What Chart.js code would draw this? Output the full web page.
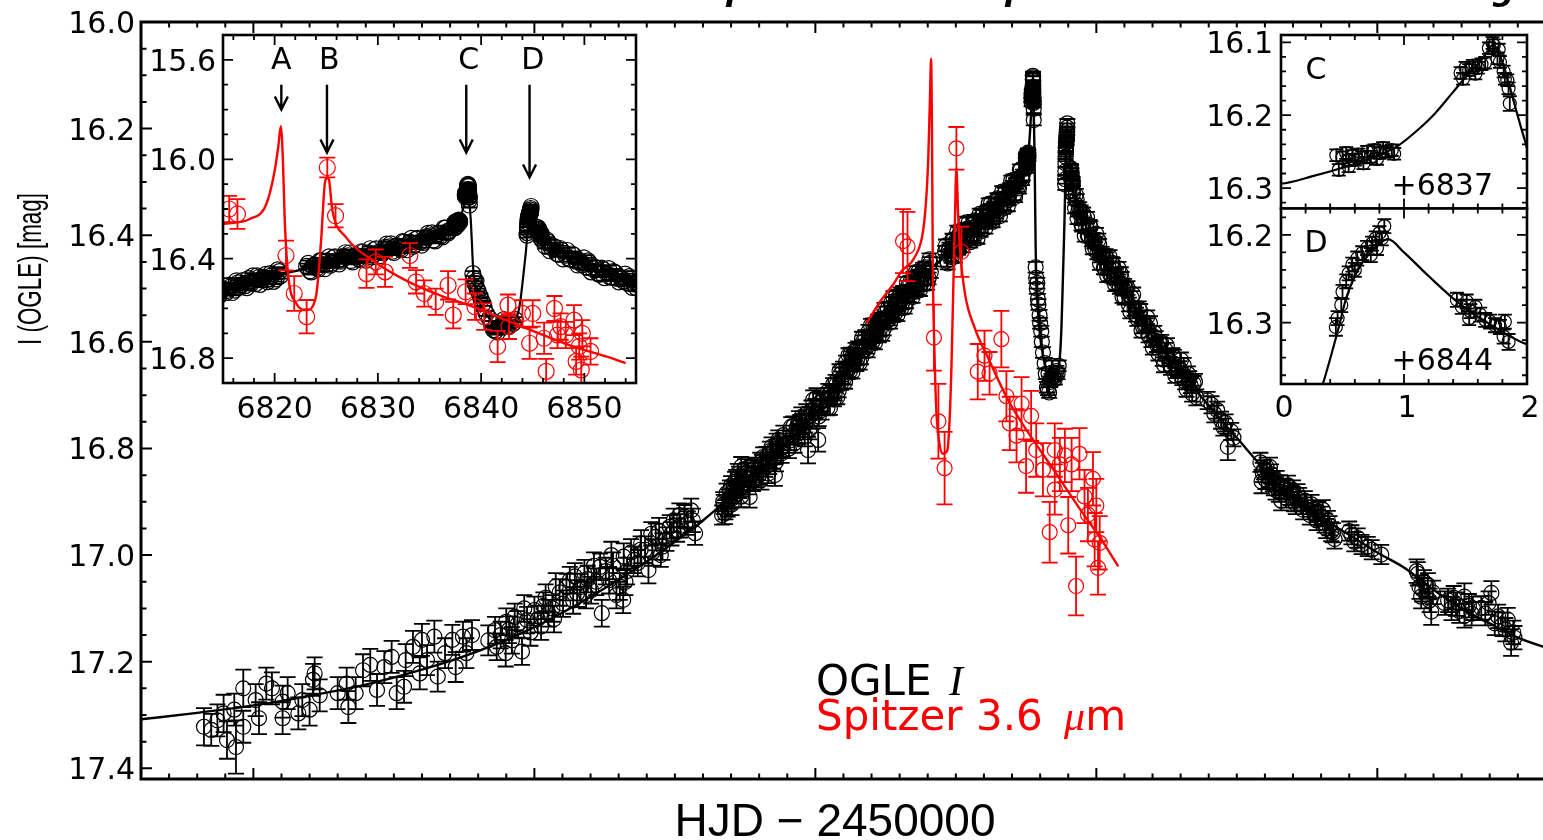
<!DOCTYPE html>
<html>
<head>
<meta charset="utf-8">
<title>OGLE and Spitzer light curve</title>
<script src="https://cdn.jsdelivr.net/npm/chart.js@4.4.1/dist/chart.umd.min.js"></script>
<style>
  html, body { margin: 0; padding: 0; background: #fff; }
  body { position: relative; width: 1543px; height: 840px; overflow: hidden; }
  canvas { position: absolute; left: 0; top: 0; }
</style>
</head>
<body>
<canvas id="lc" width="1590" height="840"></canvas>
<canvas id="zoomAB" width="1590" height="840"></canvas>
<canvas id="zoomC" width="1590" height="840"></canvas>
<canvas id="zoomD" width="1590" height="840"></canvas>
<script>
// ---- OGLE I photometry (HJD-2450000, mag, error), one block per stretch ----
const earlyT = [
  6691.2,6692.5,6693.6,6694.7,6695.3,6696.6,6696.9,6698.2,6698.2,6700.4,
  6701.0,6702.3,6703.3,6705.2,6705.2,6706.1,6708.0,6708.7,6710.0,6710.6,
  6710.9,6711.8,6715.0,6716.6,6716.9,6718.2,6719.5,6720.8,6722.0,6723.3,
  6724.6,6725.5,6726.8,6727.1,6728.4,6729.6,6730.0,6730.9,6732.2,6732.8,
  6734.1,6735.4,6736.0,6737.3,6737.9,6738.9,6743.0,6743.3,6744.0,6744.9,
  6745.5,6746.5,6747.0,6747.8,6748.7,6749.3,6750.0,6750.6,6751.2,6752.0,
  6752.5,6753.2,6753.8,6754.5,6755.1,6756.3,6756.9,6757.6,6758.2,6758.9,
  6759.5,6760.1,6761.0,6761.7,6762.0,6762.7,6763.3,6764.0,6764.6,6765.2,
  6765.8,6765.9,6766.5,6767.2,6767.8,6768.4,6769.0,6769.7,6770.3,6771.0,
  6771.6,6772.2,6772.8,6773.5,6774.1,6774.8,6775.4,6776.0,6776.7,6777.3,
  6777.9,6778.6,
  6741.8,6745.0,6746.0,6748.2,6751.6,6753.5,6755.7,6757.2,6759.2,6760.6,
  6763.7,6766.2,6768.9,6770.8,6772.5,6774.4,6775.8,6778.2];
const earlyM = [
  17.322,17.328,17.310,17.297,17.347,17.290,17.360,17.250,17.322,17.272,
  17.306,17.241,17.250,17.275,17.306,17.259,17.297,17.272,17.290,17.234,
  17.222,17.263,17.259,17.241,17.285,17.259,17.216,17.206,17.253,17.210,
  17.191,17.259,17.247,17.197,17.172,17.222,17.159,17.197,17.153,17.228,
  17.184,17.159,17.210,17.153,17.184,17.150,17.141,17.172,17.150,17.184,
  17.140,17.116,17.130,17.181,17.122,17.145,17.103,17.120,17.134,17.080,
  17.109,17.100,17.059,17.070,17.091,17.047,17.085,17.072,17.060,17.034,
  17.045,17.066,17.050,17.022,17.109,17.030,17.047,17.020,17.075,17.059,
  17.084,17.003,17.030,16.995,17.009,17.015,16.978,16.990,17.028,16.995,
  16.966,16.955,16.984,16.970,16.947,16.935,16.953,16.945,16.928,16.940,
  16.916,16.959,
  17.160,17.125,17.160,17.100,17.095,17.120,17.060,17.040,17.075,17.020,
  17.000,17.050,16.990,16.960,17.000,16.960,16.925,16.935];
const earlyE = [
  .035,.030,.030,.035,.035,.030,.050,.035,.030,.030,
  .030,.030,.030,.030,.030,.030,.030,.030,.030,.030,
  .030,.030,.030,.030,.030,.030,.030,.030,.030,.030,
  .030,.030,.030,.030,.030,.030,.030,.028,.030,.028,
  .028,.028,.028,.028,.028,.028,.025,.025,.025,.025,
  .025,.025,.025,.025,.025,.025,.025,.025,.025,.025,
  .025,.025,.025,.025,.025,.025,.025,.025,.025,.025,
  .025,.025,.025,.025,.025,.025,.025,.025,.025,.025,
  .025,.025,.025,.025,.025,.025,.025,.025,.025,.025,
  .025,.025,.025,.022,.022,.022,.022,.022,.022,.022,
  .022,.022,
  .028,.025,.025,.025,.025,.025,.025,.025,.025,.025,
  .025,.025,.025,.022,.022,.022,.022,.022];

const riseT = [
  6783.4,6783.7,6783.9,6784.0,6784.2,6784.6,6785.0,6785.1,6785.5,6785.9,
  6786.2,6786.5,6786.8,6786.8,6787.3,6787.8,6788.3,6788.6,6789.0,6789.5,
  6789.8,6790.2,6790.4,6790.7,6791.1,6791.6,6791.9,6792.2,6792.5,6792.8,
  6793.1,6793.4,6793.8,6794.0,6794.3,6795.3,6795.7,6796.0,6796.3,6796.7,
  6797.1,6797.5,6797.8,6798.1,6798.4,6798.7,6799.0,6799.3,6799.6,6800.0,
  6800.5,6800.8,6801.1,
  6783.6,6784.4,6784.8,6785.3,6785.7,6786.0,6786.4,6787.0,6787.5,6788.0,
  6788.9,6789.3,6790.0,6790.5,6791.3,6791.8,6792.4,6793.0,6793.6,6794.2,
  6795.5,6796.1,6796.9,6797.3,6798.2,6798.9,6799.5,6800.2,6800.6,6801.0];
const riseM = [
  16.925,16.905,16.922,16.915,16.884,16.895,16.870,16.905,16.880,16.858,
  16.847,16.875,16.890,16.834,16.860,16.845,16.891,16.852,16.840,16.855,
  16.841,16.826,16.859,16.816,16.835,16.847,16.805,16.797,16.820,16.850,
  16.790,16.784,16.800,16.809,16.775,16.800,16.759,16.775,16.790,16.760,
  16.748,16.741,16.765,16.778,16.735,16.803,16.740,16.728,16.709,16.725,
  16.784,16.715,16.728,
  16.900,16.910,16.878,16.893,16.862,16.885,16.852,16.872,16.838,16.868,
  16.862,16.835,16.850,16.830,16.815,16.830,16.805,16.825,16.790,16.798,
  16.785,16.758,16.772,16.755,16.752,16.765,16.745,16.705,16.740,16.712];
const riseE = [
  .018,.018,.020,.018,.018,.018,.018,.020,.018,.018,
  .018,.018,.020,.018,.018,.018,.020,.018,.018,.018,
  .018,.018,.018,.018,.018,.018,.018,.018,.018,.020,
  .018,.018,.018,.018,.018,.018,.018,.018,.018,.018,
  .018,.018,.018,.018,.018,.025,.018,.018,.018,.018,
  .022,.018,.018,
  .018,.018,.018,.018,.018,.018,.018,.018,.018,.018,
  .018,.018,.018,.018,.018,.018,.018,.018,.018,.018,
  .018,.018,.018,.018,.018,.018,.018,.018,.018,.018];

// the dense run up to crossing C (two passes per night)
const bandT = [
  6802.15,6802.45,6802.75,6803.15,6803.45,6803.75,6804.15,6804.45,6804.75,6805.15,
  6805.45,6805.75,6806.15,6806.45,6806.75,6807.15,6807.45,6807.75,6808.15,6808.45,
  6808.75,6809.15,6809.45,6809.75,6810.15,6810.45,6810.75,6811.15,6811.45,6811.75,
  6812.15,6812.45,6812.75,6813.15,6813.45,6813.75,6814.15,6814.45,6814.75,6815.15,
  6815.45,6815.75,6816.15,6816.45,6816.75,6817.15,6817.45,6817.75,6818.15,6818.45,
  6818.75,6819.15,6819.45,6819.75,6820.15,6820.45,
  6823.1,6823.4,6823.7,6824.1,6824.4,6824.7,6825.1,6825.4,6825.7,6826.1,
  6826.4,6826.7,6827.1,6827.4,6827.7,6828.1,6828.4,6828.7,6829.1,6829.4,
  6829.7,6830.1,6830.4,6830.7,6831.1,6831.4,6831.7,6832.1,6832.4,6832.7,
  6833.1,6833.4,6833.7,6834.1,6834.4,6834.7,6835.1,6835.4,6835.7,6836.1,
  6836.4,6836.7,6836.9];
const bandM = [
  16.724,16.698,16.705,16.680,16.696,16.680,16.692,16.661,16.668,16.668,
  16.638,16.654,16.655,16.630,16.638,16.615,16.632,16.617,16.630,16.600,
  16.608,16.610,16.581,16.598,16.600,16.575,16.583,16.561,16.578,16.563,
  16.576,16.546,16.554,16.557,16.528,16.545,16.547,16.523,16.531,16.509,
  16.527,16.512,16.526,16.497,16.505,16.508,16.480,16.498,16.500,16.476,
  16.485,16.463,16.481,16.467,16.481,16.452,
  16.431,16.448,16.430,16.437,16.408,16.424,16.409,16.426,16.396,16.406,
  16.410,16.389,16.388,16.407,16.390,16.399,16.372,16.389,16.376,16.393,
  16.363,16.373,16.376,16.354,16.352,16.370,16.351,16.359,16.331,16.347,
  16.333,16.350,16.321,16.331,16.334,16.312,16.308,16.324,16.303,16.308,
  16.277,16.291,16.287];
const bandE = [
  .014,.012,.013,.012,.014,.012,.012,.013,.012,.012,
  .012,.013,.012,.012,.012,.013,.012,.012,.012,.012,
  .012,.012,.013,.012,.012,.012,.012,.012,.012,.011,
  .012,.012,.011,.012,.012,.011,.012,.011,.012,.011,
  .011,.012,.011,.011,.012,.011,.011,.011,.011,.011,
  .011,.011,.011,.011,.011,.011,
  .011,.011,.011,.011,.011,.011,.011,.011,.011,.011,
  .011,.011,.011,.011,.010,.011,.010,.011,.010,.010,
  .010,.010,.010,.010,.010,.010,.010,.010,.010,.010,
  .010,.010,.010,.010,.010,.010,.010,.010,.010,.010,
  .010,.010,.010];
const band2T = [
  6802.3,6802.6,6802.9,6803.3,6803.6,6803.9,6804.3,6804.6,6804.9,6805.3,
  6805.6,6805.9,6806.3,6806.6,6806.9,6807.3,6807.6,6807.9,6808.3,6808.6,
  6808.9,6809.3,6809.6,6809.9,6810.3,6810.6,6810.9,6811.3,6811.6,6811.9,
  6812.3,6812.6,6812.9,6813.3,6813.6,6813.9,6814.3,6814.6,6814.9,6815.3,
  6815.6,6815.9,6816.3,6816.6,6816.9,6817.3,6817.6,6817.9,6818.3,6818.6,
  6818.9,6819.3,6819.6,6819.9,6820.3,6820.55,
  6823.25,6823.55,6823.85,6824.25,6824.55,6824.85,6825.25,6825.55,6825.85,6826.25,
  6826.55,6826.85,6827.25,6827.55,6827.85,6828.25,6828.55,6828.85,6829.25,6829.55,
  6829.85,6830.25,6830.55,6830.85,6831.25,6831.55,6831.85,6832.25,6832.55,6832.85,
  6833.25,6833.55,6833.85,6834.25,6834.55,6834.85,6835.25,6835.55,6835.85,6836.25,
  6836.55,6836.8];
const band2M = [
  16.692,16.724,16.694,16.708,16.675,16.704,16.655,16.677,16.650,16.675,
  16.653,16.625,16.623,16.657,16.627,16.643,16.611,16.640,16.593,16.617,
  16.590,16.617,16.596,16.569,16.568,16.602,16.573,16.589,16.557,16.586,
  16.539,16.563,16.537,16.564,16.543,16.516,16.515,16.550,16.521,16.537,
  16.506,16.536,16.489,16.514,16.488,16.516,16.495,16.469,16.469,16.503,
  16.475,16.492,16.460,16.491,16.445,16.469,
  16.419,16.453,16.425,16.441,16.409,16.440,16.393,16.418,16.393,16.421,
  16.402,16.376,16.377,16.413,16.386,16.404,16.374,16.406,16.360,16.385,
  16.360,16.387,16.367,16.341,16.340,16.375,16.347,16.364,16.333,16.364,
  16.318,16.343,16.318,16.345,16.324,16.298,16.296,16.328,16.298,16.312,
  16.277,16.296];
const band2E = [
  .013,.013,.013,.013,.013,.013,.013,.013,.013,.013,
  .013,.013,.012,.012,.012,.012,.012,.012,.012,.012,
  .012,.012,.012,.012,.012,.012,.012,.012,.012,.012,
  .012,.012,.012,.011,.011,.011,.011,.011,.011,.011,
  .011,.011,.011,.011,.011,.011,.011,.011,.011,.011,
  .011,.011,.011,.011,.011,.011,
  .011,.011,.011,.011,.011,.011,.011,.011,.011,.011,
  .011,.011,.010,.010,.010,.010,.010,.010,.010,.010,
  .010,.010,.010,.010,.010,.010,.010,.010,.010,.010,
  .010,.010,.010,.010,.010,.010,.010,.010,.010,.010,
  .010,.010];

// caustic crossings C and D, with the dip between them
const peakT = [
  6837.45,6837.47,6837.50,6837.53,6837.55,6837.55,6837.58,6837.60,6837.63,6837.66,
  6837.67,6837.70,6837.73,6837.76,6837.78,6837.80,6837.83,6837.86,6837.90,6837.92,
  6838.46,6838.48,6838.50,6838.53,6838.56,6838.58,6838.60,6838.63,6838.66,6838.69,
  6838.72,6838.73,6838.76,6838.77,6838.78,6838.81,6838.82,6838.84,6838.85,6838.86,
  6839.20,6839.30,6839.40,6839.50,6839.60,6839.70,6839.90,6840.00,6840.20,
  6840.30,6840.50,6840.80,6841.00,6841.20,6841.40,6841.50,6841.60,6841.80,6842.00,
  6842.20,6842.30,6842.60,6842.90,6843.10,6843.30,
  6844.446,6844.46,6844.49,6844.50,6844.53,6844.55,6844.58,6844.60,6844.62,6844.66,
  6844.70,6844.73,6844.74,6844.77,6844.78,6844.80,6844.82,6844.84,
  6845.43,6845.47,6845.51,6845.53,6845.54,6845.58,6845.62,6845.66,6845.70,6845.74,
  6845.78,6845.81,6845.82,6845.85];
const peakM = [
  16.255,16.275,16.258,16.252,16.270,16.262,16.256,16.261,16.254,16.258,
  16.266,16.250,16.257,16.248,16.260,16.252,16.245,16.250,16.248,16.253,
  16.142,16.150,16.135,16.138,16.132,16.143,16.135,16.130,16.128,16.108,
  16.101,16.104,16.122,16.110,16.127,16.140,16.150,16.152,16.163,16.184,
  16.460,16.480,16.500,16.490,16.520,16.530,16.550,16.565,16.580,
  16.600,16.620,16.640,16.660,16.685,16.690,16.660,16.695,16.675,16.670,
  16.645,16.665,16.670,16.655,16.660,16.645,
  16.305,16.295,16.280,16.265,16.253,16.244,16.234,16.240,16.227,16.221,
  16.215,16.223,16.210,16.204,16.215,16.198,16.204,16.190,
  16.274,16.282,16.276,16.295,16.287,16.282,16.291,16.297,16.299,16.303,
  16.305,16.316,16.299,16.322];
const peakE = [
  .008,.008,.008,.008,.008,.008,.008,.008,.008,.008,
  .008,.008,.008,.008,.008,.008,.008,.008,.008,.008,
  .008,.008,.008,.008,.008,.008,.008,.008,.008,.008,
  .008,.008,.008,.008,.008,.008,.008,.008,.008,.010,
  .010,.010,.010,.010,.010,.010,.010,.010,.010,
  .010,.010,.010,.010,.010,.010,.010,.010,.010,.010,
  .010,.010,.010,.010,.010,.010,
  .010,.008,.008,.008,.008,.008,.008,.008,.008,.008,
  .008,.008,.008,.008,.008,.008,.008,.008,
  .008,.008,.008,.008,.008,.008,.008,.008,.008,.008,
  .008,.008,.008,.009];

// the dense run down from crossing D (two passes per night)
const fallT = [
  6846.2,6846.5,6846.8,6847.2,6847.5,6847.8,6848.2,6848.5,6848.8,6849.2,
  6849.5,6849.8,6850.2,6850.5,6850.8,6851.2,6851.5,6851.8,6852.2,6852.5,
  6852.8,6853.2,6853.5,6853.8,6854.2,6854.5,6854.8,6855.3,6855.8,6856.3,
  6856.8,6857.3,6857.8,6858.3,6858.8,6859.3,6859.8,6860.3,6860.8,6861.3,
  6861.8,6862.3,6862.8,6863.3,6863.8,6864.3,6864.8,6865.3,6865.8,6866.3,
  6866.8,6867.3,6867.8];
const fallM = [
  16.349,16.333,16.355,16.354,16.382,16.366,16.386,16.401,16.381,16.410,
  16.407,16.424,16.434,16.418,16.440,16.437,16.462,16.443,16.460,16.474,
  16.452,16.479,16.475,16.490,16.498,16.481,16.501,16.500,16.530,16.517,
  16.538,16.557,16.541,16.571,16.569,16.588,16.597,16.583,16.606,16.604,
  16.631,16.615,16.632,16.648,16.628,16.654,16.650,16.667,16.675,16.660,
  16.682,16.678,16.704];
const fallE = [
  .010,.010,.010,.010,.011,.010,.010,.011,.010,.011,
  .011,.011,.011,.011,.011,.011,.012,.011,.011,.012,
  .011,.012,.012,.012,.012,.012,.012,.012,.013,.012,
  .013,.013,.012,.013,.013,.013,.013,.013,.013,.013,
  .014,.013,.014,.014,.013,.014,.014,.014,.014,.014,
  .014,.014,.015];
const fall2T = [
  6846.35,6846.65,6846.95,6847.35,6847.65,6847.95,6848.35,6848.65,6848.95,6849.35,
  6849.65,6849.95,6850.35,6850.65,6850.95,6851.35,6851.65,6851.95,6852.35,6852.65,
  6852.95,6853.35,6853.65,6853.95,6854.35,6854.65,6854.95,6855.05,6855.55,6856.05,
  6856.55,6857.05,6857.55,6858.05,6858.55,6859.05,6859.55,6860.05,6860.55,6861.05,
  6861.55,6862.05,6862.55,6863.05,6863.55,6864.05,6864.55,6865.05,6865.55,6866.05,
  6866.55,6867.05,6867.55];
const fall2M = [
  16.324,16.368,16.349,16.380,16.359,16.401,16.367,16.401,16.385,16.425,
  16.414,16.397,16.409,16.453,16.434,16.461,16.438,16.476,16.440,16.473,
  16.455,16.493,16.481,16.462,16.472,16.515,16.494,16.517,16.499,16.543,
  16.511,16.549,16.537,16.579,16.569,16.554,16.565,16.611,16.593,16.622,
  16.601,16.643,16.607,16.642,16.626,16.663,16.651,16.634,16.644,16.689,
  16.670,16.697,16.675];
const fall2E = [
  .011,.011,.011,.011,.011,.011,.011,.011,.011,.011,
  .011,.011,.012,.012,.012,.012,.012,.012,.012,.012,
  .012,.012,.012,.012,.012,.012,.012,.013,.013,.013,
  .013,.013,.013,.013,.013,.013,.013,.013,.013,.013,
  .014,.014,.014,.014,.014,.014,.014,.014,.014,.014,
  .015,.015,.015];

const lateT = [
  6869.8,6870.5,6871.0,6871.5,6872.2,6872.6,6873.0,6873.4,6874.0,6874.4,
  6879.2,6879.4,6879.8,6880.3,6880.7,6881.1,6881.6,6882.1,6882.5,6882.9,
  6883.4,6884.1,6884.6,6885.2,6885.8,6886.4,6887.1,6887.7,6888.3,6888.9,
  6889.5,6890.0,6890.6,6891.2,6891.8,6892.4,6895.0,6895.4,6895.9,6896.5,
  6897.2,6898.3,6899.0,6900.7,6907.0,6907.2,6907.5,6907.8,6908.3,6909.0,
  6909.6,6909.9,6912.0,6912.6,6913.2,6914.0,6914.6,6915.5,6915.5,6916.3,
  6917.0,6918.5,6919.2,6920.3,6920.9,6921.5,6922.3,6923.2,6923.8,6924.2,
  6924.4,
  6879.6,6880.1,6880.9,6881.4,6881.9,6882.7,6883.8,6884.4,6885.0,6885.5,
  6886.1,6886.8,6887.4,6888.0,6888.6,6889.2,6890.3,6890.9,6891.5,6892.1,
  6908.0,6909.3,6913.6,6916.8,6919.8,6922.8];
const lateM = [
  16.710,16.718,16.735,16.728,16.747,16.760,16.752,16.797,16.768,16.780,
  16.826,16.862,16.840,16.835,16.855,16.848,16.870,16.860,16.882,16.898,
  16.875,16.869,16.888,16.900,16.885,16.905,16.898,16.915,16.905,16.925,
  16.918,16.927,16.940,16.935,16.956,16.970,16.955,16.962,16.975,16.968,
  16.980,16.984,16.990,16.999,17.030,17.035,17.060,17.078,17.050,17.056,
  17.106,17.070,17.090,17.085,17.100,17.092,17.105,17.078,17.114,17.095,
  17.100,17.099,17.110,17.071,17.128,17.115,17.130,17.121,17.164,17.145,
  17.155,
  16.845,16.858,16.835,16.862,16.878,16.868,16.893,16.878,16.878,16.905,
  16.892,16.915,16.905,16.925,16.915,16.935,16.915,16.950,16.945,16.958,
  17.065,17.085,17.080,17.110,17.090,17.140];
const lateE = [
  .016,.016,.016,.016,.016,.016,.016,.025,.016,.016,
  .018,.022,.018,.018,.018,.018,.018,.018,.018,.018,
  .018,.018,.018,.018,.018,.018,.018,.018,.018,.018,
  .018,.018,.018,.018,.018,.018,.018,.018,.018,.018,
  .018,.018,.018,.018,.022,.022,.022,.022,.022,.022,
  .025,.022,.022,.022,.022,.022,.022,.025,.022,.022,
  .022,.022,.022,.022,.022,.022,.022,.022,.025,.022,
  .022,
  .018,.018,.018,.018,.018,.018,.018,.018,.018,.018,
  .018,.018,.018,.018,.018,.018,.018,.018,.018,.018,
  .022,.022,.022,.022,.022,.022];

// binary-lens model through the OGLE points
const modelT = [
  6680,6690,6700,6710,6720,6730,6740,6750,6760,6770,6775,6780,6785,6790,6795,6800,6805,6810,6815,6818,
  6820,6822,6823,6826,6830,6834,6836,6837.0,6837.25,6837.5,6837.75,6837.95,6838.1,6838.25,6838.4,6838.5,6838.6,6838.66,6838.72,6838.76,
  6838.8,6838.85,6838.9,6838.95,6839.0,6839.1,6839.2,6839.35,6839.6,6840.0,6840.5,6841.0,6841.5,6842.0,6842.5,6843.0,6843.3,6843.6,6843.8,6844.0,
  6844.2,6844.34,6844.47,6844.53,6844.59,6844.66,6844.73,6844.8,6844.87,6845.0,6845.2,6845.43,6845.7,6846.0,6848,6850,6855,6860,6865,6870,
  6875,6880,6885,6890,6895,6900,6905,6910,6915,6920,6925,6935];
const modelM = [
  17.308,17.296,17.282,17.264,17.243,17.215,17.180,17.135,17.078,17.012,16.975,16.935,16.890,16.843,16.790,16.735,16.665,16.592,16.525,16.490,
  16.468,16.450,16.440,16.405,16.372,16.330,16.300,16.294,16.284,16.272,16.258,16.242,16.222,16.198,16.168,16.148,16.130,16.117,16.104,16.110,
  16.127,16.155,16.186,16.216,16.246,16.330,16.420,16.490,16.540,16.590,16.625,16.648,16.662,16.670,16.672,16.665,16.650,16.615,16.570,16.500,
  16.425,16.370,16.305,16.272,16.250,16.232,16.219,16.210,16.205,16.220,16.247,16.276,16.302,16.325,16.380,16.420,16.505,16.590,16.655,16.720,
  16.780,16.840,16.890,16.930,16.962,16.995,17.025,17.065,17.100,17.128,17.155,17.190];

// ---- Spitzer 3.6 micron, as placed on the full light curve ----
const spitzerT = [
  6815.6,6816.4,6821.1,6821.9,6823.0,6825.1,6826.0,6828.9,6830.1,6831.0,
  6833.1,6834.0,6834.6,6835.8,6836.7,6837.5,6838.4,6839.3,6840.5,6841.7,
  6842.6,6842.6,6843.5,6844.4,6845.0,6845.6,6846.4,6847.0,6847.9,6848.5,
  6849.4,6849.7,6850.0,6850.3,6850.6];
const spitzerM = [
  16.411,16.421,16.592,16.749,16.837,16.237,16.431,16.656,16.626,16.659,
  16.595,16.702,16.753,16.776,16.716,16.833,16.739,16.803,16.840,16.957,
  16.803,16.877,16.830,16.813,16.944,16.830,17.058,16.810,16.890,16.924,
  16.857,16.971,16.907,17.024,16.977];
const spitzerE = [
  .060,.065,.062,.070,.068,.040,.047,.052,.047,.040,
  .053,.047,.050,.050,.050,.050,.047,.050,.050,.057,
  .050,.047,.050,.050,.053,.050,.055,.048,.050,.050,
  .050,.050,.050,.050,.050];
const spitzerModelT = [
  6809.1,6811.7,6814.0,6815.3,6817.7,6819.2,6819.8,6820.1,6820.4,6820.6,6820.75,6820.9,6821.2,6821.5,6822.0,6822.7,6823.5,6824.0,
  6824.2,6824.5,6824.8,6825.1,6825.4,6825.7,6826.6,6828.4,6830.7,6834.3,6837.8,6842.6,6847.3,6850.9,6853.9];
const spitzerModelM = [
  16.565,16.522,16.490,16.468,16.441,16.390,16.320,16.253,16.140,16.069,16.200,16.454,16.620,16.722,16.785,16.810,16.803,16.720,
  16.655,16.520,16.388,16.274,16.360,16.421,16.508,16.575,16.629,16.709,16.769,16.843,16.917,16.971,17.021];

// ---- Spitzer 3.6 micron, as placed in the zoom on crossings A-D ----
const zoomSpT = [
  6815.6,6816.4,6821.1,6821.9,6823.1,6825.1,6825.9,6828.9,6829.8,6830.7,
  6833.1,6833.7,6834.5,6835.6,6836.8,6837.3,6838.5,6839.4,6840.3,6841.6,
  6842.6,6842.7,6844.0,6844.7,6845.0,6846.1,6846.3,6847.1,6847.4,6847.7,
  6848.2,6849.0,6849.2,6849.5,6849.8,6849.7,6850.6];
const zoomSpM = [
  16.200,16.220,16.387,16.540,16.633,16.033,16.227,16.460,16.413,16.453,
  16.387,16.493,16.540,16.573,16.507,16.627,16.533,16.593,16.633,16.753,
  16.587,16.673,16.620,16.740,16.620,16.720,16.853,16.600,16.707,16.673,
  16.707,16.647,16.813,16.753,16.700,16.847,16.773];
const zoomSpE = [
  .053,.060,.060,.070,.067,.040,.047,.057,.050,.060,
  .050,.047,.053,.053,.057,.053,.050,.053,.053,.063,
  .043,.050,.053,.063,.053,.063,.050,.050,.053,.053,
  .053,.060,.053,.053,.053,.053,.053];
const zoomSpModelT = [
  6815.0,6817.6,6819.2,6820.0,6820.35,6820.6,6820.8,6820.97,6821.3,6822.1,6823.1,6824.0,6824.5,
  6824.9,6825.2,6825.6,6826.9,6829.5,6832.7,6836.0,6839.2,6842.4,6845.6,6848.9,6852.1,6854.0];
const zoomSpModelM = [
  16.260,16.240,16.180,16.047,15.950,15.867,16.000,16.233,16.460,16.580,16.607,16.553,16.327,
  16.087,16.073,16.207,16.313,16.407,16.487,16.547,16.593,16.647,16.700,16.753,16.793,16.820];

// arrows marking the four caustic crossings
const crossLabels = ['A', 'B', 'C', 'D'];
const crossLabelT = [6820.65, 6825.3, 6838.8, 6845.0];
const crossArrowT = [6820.65, 6825.07, 6838.56, 6844.69];
const crossArrowTip = [15.80, 15.973, 15.973, 16.073];

// tick labels
const mainYTicks = [16.0, 16.2, 16.4, 16.6, 16.8, 17.0, 17.2, 17.4];
const zoomXTicks = [6820, 6830, 6840, 6850];
const zoomYTicks = [15.6, 16.0, 16.4, 16.8];
const cYTicks = [16.1, 16.2, 16.3];
const dYTicks = [16.2, 16.3];
const dayTicks = [0, 1, 2];
const cOffset = 6837, dOffset = 6844;

const yTitle = 'I (OGLE) [mag]';
const xTitle = 'HJD \u2212 2450000';
// lower ends of the heading letters that run off the top edge
const headPieces = ['p', 'p', 'g'];
const headPieceX = [726, 1005, 1492];

// ---------------------------------------------------------------
const W = 1590, H = 840;
Chart.defaults.font.family = "'DejaVu Sans', sans-serif";

const ogleT = [...earlyT, ...riseT, ...bandT, ...band2T, ...peakT, ...fallT, ...fall2T, ...lateT];
const ogleM = [...earlyM, ...riseM, ...bandM, ...band2M, ...peakM, ...fallM, ...fall2M, ...lateM];
const ogleE = [...earlyE, ...riseE, ...bandE, ...band2E, ...peakE, ...fallE, ...fall2E, ...lateE];

const pts = (ts, ms) => ts.map((t, i) => ({ x: t, y: ms[i] }));

function circles(ts, ms, es, color, r, cap, order) {
  return {
    data: pts(ts, ms), errors: es, capHalf: cap, errWidth: 1.8,
    showLine: false, pointStyle: 'circle', pointRadius: r,
    borderColor: color, borderWidth: 1.2, pointBorderWidth: 1.2,
    backgroundColor: 'rgba(0,0,0,0)', pointBackgroundColor: 'rgba(0,0,0,0)',
    clip: 0, order
  };
}
function curve(ts, ms, color, width, order) {
  return {
    data: pts(ts, ms), showLine: true, borderColor: color, borderWidth: width,
    pointRadius: 0, cubicInterpolationMode: 'monotone', fill: false, clip: 0, order
  };
}

const steps = (lo, hi, st) => {
  const out = [];
  for (let n = Math.ceil(lo / st - 1e-6); n * st <= hi + 1e-6; n++) out.push(+(n * st).toFixed(6));
  return out;
};
const onMajor = (v, st) => Math.abs(v / st - Math.round(v / st)) < 1e-4;

function drawErrors(chart, ds) {
  const { ctx, chartArea: a, scales: { x, y } } = chart;
  ctx.save();
  ctx.beginPath();
  ctx.rect(a.left, a.top, a.right - a.left, a.bottom - a.top);
  ctx.clip();
  ctx.strokeStyle = ds.borderColor;
  ctx.lineWidth = ds.errWidth;
  ctx.beginPath();
  ds.data.forEach((p, i) => {
    const e = ds.errors[i];
    const px = x.getPixelForValue(p.x);
    const y1 = y.getPixelForValue(p.y - e), y2 = y.getPixelForValue(p.y + e);
    const c = ds.capHalf;
    ctx.moveTo(px, y1); ctx.lineTo(px, y2);
    ctx.moveTo(px - c, y1); ctx.lineTo(px + c, y1);
    ctx.moveTo(px - c, y2); ctx.lineTo(px + c, y2);
  });
  ctx.stroke();
  ctx.restore();
}

function drawAxes(chart, c) {
  const { ctx, chartArea: a, scales: { x, y } } = chart;
  ctx.save();
  ctx.strokeStyle = '#000';
  ctx.lineWidth = c.tickWidth;
  ctx.beginPath();
  for (const v of steps(x.min, x.max, c.xMinor)) {
    const len = onMajor(v, c.xMajor) ? c.majLen : c.minLen;
    const px = x.getPixelForValue(v);
    ctx.moveTo(px, a.bottom); ctx.lineTo(px, a.bottom - len);
    ctx.moveTo(px, a.top); ctx.lineTo(px, a.top + len);
  }
  for (const v of steps(y.min, y.max, c.yMinor)) {
    const len = onMajor(v, c.yMajor) ? c.majLen : c.minLen;
    const py = y.getPixelForValue(v);
    ctx.moveTo(a.left, py); ctx.lineTo(a.left + len, py);
    ctx.moveTo(a.right, py); ctx.lineTo(a.right - len, py);
  }
  ctx.stroke();
  ctx.lineWidth = c.frameWidth;
  ctx.strokeRect(a.left, a.top, a.right - a.left, a.bottom - a.top);

  ctx.fillStyle = '#000';
  ctx.font = c.font;
  ctx.textBaseline = 'alphabetic';
  ctx.textAlign = 'right';
  (c.yLabels || []).forEach(v => ctx.fillText(v.toFixed(1), a.left - c.yGap, y.getPixelForValue(v) + c.halfDigit));
  ctx.textAlign = 'center';
  (c.xLabels || []).forEach(v => ctx.fillText(String(v), x.getPixelForValue(v + (c.xOffset || 0)) + (c.xShift || 0), c.xBase));
  ctx.restore();
}

function framePlugin(c) {
  return {
    id: 'frame',
    beforeDraw(chart) {
      if (!c.white) return;
      const { ctx, chartArea: a } = chart;
      ctx.save();
      ctx.fillStyle = '#fff';
      ctx.fillRect(a.left, a.top, a.right - a.left, a.bottom - a.top);
      ctx.restore();
    },
    beforeDatasetDraw(chart, args) {
      const ds = chart.data.datasets[args.index];
      if (ds.errors) drawErrors(chart, ds);
    },
    afterDraw(chart) {
      drawAxes(chart, c);
      if (c.extra) c.extra(chart);
    }
  };
}

function makeChart(id, datasets, box, xr, yr, axes) {
  return new Chart(document.getElementById(id), {
    type: 'scatter',
    data: { datasets },
    options: {
      responsive: false, animation: false, events: [],
      layout: { padding: { left: box.left, top: box.top, right: W - box.right, bottom: H - box.bottom } },
      scales: {
        x: { type: 'linear', min: xr[0], max: xr[1], display: false },
        y: { type: 'linear', min: yr[0], max: yr[1], reverse: true, display: false }
      },
      plugins: { legend: { display: false }, tooltip: { enabled: false } }
    },
    plugins: [framePlugin(axes)]
  });
}

// titles and legend of the full light curve
function mainText(chart) {
  const ctx = chart.ctx;
  ctx.save();
  ctx.fillStyle = '#000';
  ctx.textBaseline = 'alphabetic';
  ctx.textAlign = 'center';
  ctx.font = "46px 'Liberation Sans'";
  ctx.fillText(xTitle, 835, 836);

  ctx.save();
  ctx.translate(41, 269);
  ctx.rotate(-Math.PI / 2);
  ctx.font = "34px 'Liberation Sans'";
  ctx.scale(152 / ctx.measureText(yTitle).width, 1);
  ctx.fillText(yTitle, 0, 0);
  ctx.restore();

  ctx.textAlign = 'left';
  ctx.font = "bold italic 32px 'DejaVu Sans'";
  headPieces.forEach((s, i) => ctx.fillText(s, headPieceX[i], 0));

  const x0 = 816;
  ctx.font = "42px 'DejaVu Sans'";
  ctx.fillText('OGLE ', x0, 695);
  let w = ctx.measureText('OGLE ').width;
  ctx.font = "italic 42px 'Liberation Serif'";
  ctx.fillText('I', x0 + w + 4, 695);

  ctx.fillStyle = '#ff0000';
  ctx.font = "42px 'DejaVu Sans'";
  ctx.fillText('Spitzer 3.6 ', x0, 730);
  w = ctx.measureText('Spitzer 3.6 ').width;
  ctx.font = "italic 42px 'Liberation Serif'";
  ctx.fillText('\u03bc', x0 + w + 8, 730);
  const wm = ctx.measureText('\u03bc').width;
  ctx.font = "42px 'DejaVu Sans'";
  ctx.fillText('m', x0 + w + 8 + wm, 730);
  ctx.restore();
}

// letters and arrows over the A-D zoom
function crossingMarks(chart) {
  const { ctx, scales: { x, y } } = chart;
  ctx.save();
  ctx.fillStyle = '#000';
  ctx.strokeStyle = '#000';
  ctx.lineWidth = 2.4;
  ctx.font = "30px 'DejaVu Sans'";
  ctx.textAlign = 'center';
  ctx.textBaseline = 'alphabetic';
  crossLabels.forEach((s, i) => {
    ctx.fillText(s, x.getPixelForValue(crossLabelT[i]), y.getPixelForValue(15.593) + 11);
    const px = x.getPixelForValue(crossArrowT[i]);
    const top = y.getPixelForValue(15.70), tip = y.getPixelForValue(crossArrowTip[i]);
    ctx.beginPath();
    ctx.moveTo(px, top); ctx.lineTo(px, tip);
    ctx.moveTo(px - 6.5, tip - 13); ctx.lineTo(px, tip); ctx.lineTo(px + 6.5, tip - 13);
    ctx.stroke();
  });
  ctx.restore();
}

function offsetLabel(text, cx, cy, base) {
  return chart => {
    const ctx = chart.ctx;
    ctx.save();
    ctx.fillStyle = '#000';
    ctx.font = "30px 'DejaVu Sans'";
    ctx.textBaseline = 'alphabetic';
    ctx.textAlign = 'center';
    ctx.fillText(text, cx, cy + 11);
    ctx.textAlign = 'right';
    ctx.fillText('+' + base, 1493, chart.chartArea.bottom - 14);
    ctx.restore();
  };
}

const tickFont = "30px 'DejaVu Sans'";

// full light curve
makeChart('lc', [
  circles(ogleT, ogleM, ogleE, '#000', 7.5, 8, 4),
  curve(modelT, modelM, '#000', 2.4, 3),
  circles(spitzerT, spitzerM, spitzerE, '#ff0000', 7.5, 8, 2),
  curve(spitzerModelT, spitzerModelM, '#ff0000', 2.4, 1)
], { left: 141, top: 22, right: 1574, bottom: 779 }, [6680, 6935], [16.0, 17.42], {
  xMinor: 5, xMajor: 50, yMinor: 0.05, yMajor: 0.2, majLen: 11, minLen: 5.5,
  tickWidth: 2, frameWidth: 3, font: tickFont, yLabels: mainYTicks, yGap: 6, halfDigit: 11,
  extra: mainText
});

// zoom on crossings A-D
makeChart('zoomAB', [
  circles(ogleT, ogleM, ogleE, '#000', 8, 8, 4),
  curve(modelT, modelM, '#000', 2.2, 3),
  circles(zoomSpT, zoomSpM, zoomSpE, '#ff0000', 8, 8, 2),
  curve(zoomSpModelT, zoomSpModelM, '#ff0000', 2.4, 1)
], { left: 223, top: 35, right: 636, bottom: 383 }, [6815, 6855], [15.5, 16.9], {
  xMinor: 2, xMajor: 10, yMinor: 0.1, yMajor: 0.4, majLen: 10, minLen: 5,
  tickWidth: 1.8, frameWidth: 2.6, font: tickFont, white: true,
  yLabels: zoomYTicks, yGap: 7, halfDigit: 11, xLabels: zoomXTicks, xBase: 418,
  extra: crossingMarks
});

// crossing C
makeChart('zoomC', [
  circles(ogleT, ogleM, ogleE, '#000', 6.5, 7, 2),
  curve(modelT, modelM, '#000', 2.2, 1)
], { left: 1281, top: 35, right: 1527, bottom: 208.5 }, [cOffset, cOffset + 2], [16.09, 16.328], {
  xMinor: 0.2, xMajor: 1, yMinor: 0.02, yMajor: 0.1, majLen: 10, minLen: 5,
  tickWidth: 1.8, frameWidth: 2.6, font: tickFont, white: true,
  yLabels: cYTicks, yGap: 8, halfDigit: 11,
  extra: offsetLabel('C', 1316, 68, cOffset)
});

// crossing D
makeChart('zoomD', [
  circles(ogleT, ogleM, ogleE, '#000', 6.5, 7, 2),
  curve(modelT, modelM, '#000', 2.2, 1)
], { left: 1281, top: 208.5, right: 1527, bottom: 384 }, [dOffset, dOffset + 2], [16.17, 16.37], {
  xMinor: 0.2, xMajor: 1, yMinor: 0.02, yMajor: 0.1, majLen: 10, minLen: 5,
  tickWidth: 1.8, frameWidth: 2.6, font: tickFont, white: true,
  yLabels: dYTicks, yGap: 8, halfDigit: 11, xLabels: dayTicks, xOffset: dOffset, xShift: 3, xBase: 417,
  extra: offsetLabel('D', 1316, 241, dOffset)
});
</script>
</body>
</html>
